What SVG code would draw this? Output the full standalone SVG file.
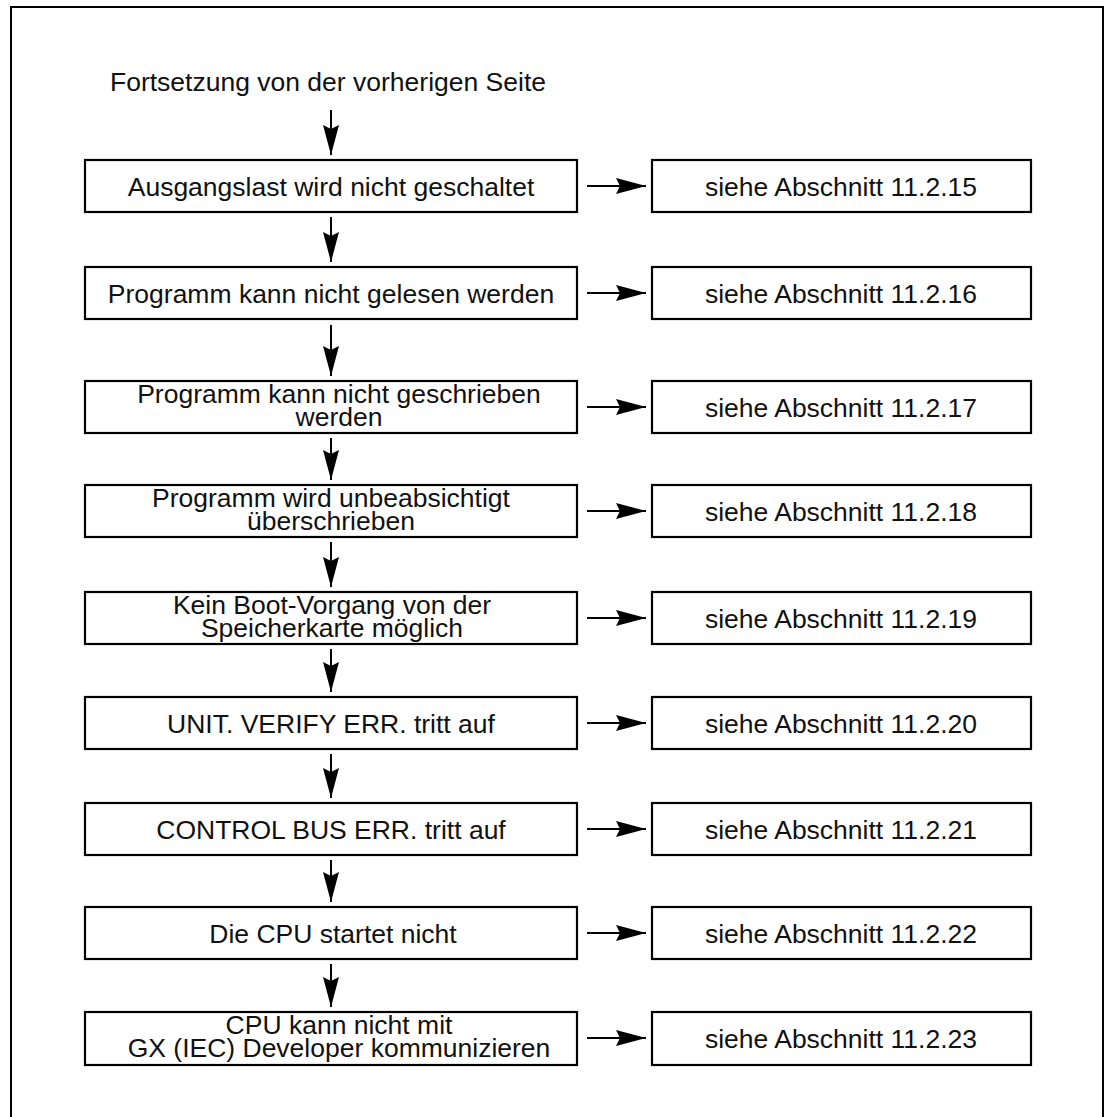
<svg xmlns="http://www.w3.org/2000/svg" width="1105" height="1117" viewBox="0 0 1105 1117">
<style>
.frame{fill:none;stroke:#000;stroke-width:2}
.box{fill:#fff;stroke:#000;stroke-width:2.2}
.t{font-family:"Liberation Sans",Arial,sans-serif;font-size:26.5px;fill:#111;text-anchor:middle}
.c{stroke:#000;stroke-width:2;fill:none}
</style>
<defs>
<marker id="ah" viewBox="0 0 30 16" refX="30" refY="8" markerWidth="30" markerHeight="16" orient="auto" markerUnits="userSpaceOnUse">
<path d="M0,0 L30,8 L0,16 L4,8 Z" fill="#000"/>
</marker>
</defs>
<rect width="1105" height="1117" fill="#fff"/>
<path class="frame" d="M11,1117 V7 H1103 V1117"/>
<g id="start"><text class="t" x="328" y="91">Fortsetzung von der vorherigen Seite</text></g>
<g id="connectors">
<line class="c" x1="331" y1="110" x2="331" y2="155" marker-end="url(#ah)"/>
<line class="c" x1="331" y1="217" x2="331" y2="262" marker-end="url(#ah)"/>
<line class="c" x1="331" y1="325" x2="331" y2="376" marker-end="url(#ah)"/>
<line class="c" x1="331" y1="438" x2="331" y2="480" marker-end="url(#ah)"/>
<line class="c" x1="331" y1="542" x2="331" y2="587" marker-end="url(#ah)"/>
<line class="c" x1="331" y1="649" x2="331" y2="692" marker-end="url(#ah)"/>
<line class="c" x1="331" y1="754" x2="331" y2="798" marker-end="url(#ah)"/>
<line class="c" x1="331" y1="860" x2="331" y2="902" marker-end="url(#ah)"/>
<line class="c" x1="331" y1="964" x2="331" y2="1007" marker-end="url(#ah)"/>
<line class="c" x1="587" y1="186" x2="646" y2="186" marker-end="url(#ah)"/>
<line class="c" x1="587" y1="293" x2="646" y2="293" marker-end="url(#ah)"/>
<line class="c" x1="587" y1="407" x2="646" y2="407" marker-end="url(#ah)"/>
<line class="c" x1="587" y1="511" x2="646" y2="511" marker-end="url(#ah)"/>
<line class="c" x1="587" y1="618" x2="646" y2="618" marker-end="url(#ah)"/>
<line class="c" x1="587" y1="723" x2="646" y2="723" marker-end="url(#ah)"/>
<line class="c" x1="587" y1="829" x2="646" y2="829" marker-end="url(#ah)"/>
<line class="c" x1="587" y1="933" x2="646" y2="933" marker-end="url(#ah)"/>
<line class="c" x1="587" y1="1038" x2="646" y2="1038" marker-end="url(#ah)"/>
</g>
<g id="n1"><rect class="box" x="85" y="160" width="492" height="52"/><text class="t" x="331" y="196">Ausgangslast wird nicht geschaltet</text></g>
<g id="r1"><rect class="box" x="652" y="160" width="379" height="52"/><text class="t" x="841" y="196">siehe Abschnitt 11.2.15</text></g>
<g id="n2"><rect class="box" x="85" y="267" width="492" height="52"/><text class="t" x="331" y="303">Programm kann nicht gelesen werden</text></g>
<g id="r2"><rect class="box" x="652" y="267" width="379" height="52"/><text class="t" x="841" y="303">siehe Abschnitt 11.2.16</text></g>
<g id="n3"><rect class="box" x="85" y="381" width="492" height="52"/><text class="t"><tspan x="339" y="403">Programm kann nicht geschrieben</tspan><tspan x="339" y="426">werden</tspan></text></g>
<g id="r3"><rect class="box" x="652" y="381" width="379" height="52"/><text class="t" x="841" y="417">siehe Abschnitt 11.2.17</text></g>
<g id="n4"><rect class="box" x="85" y="485" width="492" height="52"/><text class="t"><tspan x="331" y="507">Programm wird unbeabsichtigt</tspan><tspan x="331" y="530">überschrieben</tspan></text></g>
<g id="r4"><rect class="box" x="652" y="485" width="379" height="52"/><text class="t" x="841" y="521">siehe Abschnitt 11.2.18</text></g>
<g id="n5"><rect class="box" x="85" y="592" width="492" height="52"/><text class="t"><tspan x="332" y="614">Kein Boot-Vorgang von der</tspan><tspan x="332" y="637">Speicherkarte möglich</tspan></text></g>
<g id="r5"><rect class="box" x="652" y="592" width="379" height="52"/><text class="t" x="841" y="628">siehe Abschnitt 11.2.19</text></g>
<g id="n6"><rect class="box" x="85" y="697" width="492" height="52"/><text class="t" x="331" y="733">UNIT. VERIFY ERR. tritt auf</text></g>
<g id="r6"><rect class="box" x="652" y="697" width="379" height="52"/><text class="t" x="841" y="733">siehe Abschnitt 11.2.20</text></g>
<g id="n7"><rect class="box" x="85" y="803" width="492" height="52"/><text class="t" x="331" y="839">CONTROL BUS ERR. tritt auf</text></g>
<g id="r7"><rect class="box" x="652" y="803" width="379" height="52"/><text class="t" x="841" y="839">siehe Abschnitt 11.2.21</text></g>
<g id="n8"><rect class="box" x="85" y="907" width="492" height="52"/><text class="t" x="333" y="943">Die CPU startet nicht</text></g>
<g id="r8"><rect class="box" x="652" y="907" width="379" height="52"/><text class="t" x="841" y="943">siehe Abschnitt 11.2.22</text></g>
<g id="n9"><rect class="box" x="85" y="1012" width="492" height="53"/><text class="t"><tspan x="339" y="1034">CPU kann nicht mit</tspan><tspan x="339" y="1057">GX (IEC) Developer kommunizieren</tspan></text></g>
<g id="r9"><rect class="box" x="652" y="1012" width="379" height="53"/><text class="t" x="841" y="1048">siehe Abschnitt 11.2.23</text></g>
</svg>
